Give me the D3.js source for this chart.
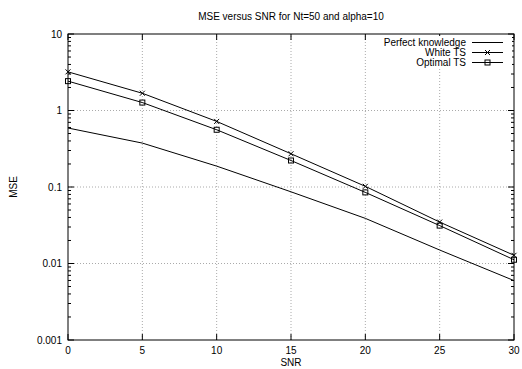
<!DOCTYPE html>
<html>
<head>
<meta charset="utf-8">
<script src="https://d3js.org/d3.v7.min.js"></script>
<style>
  body { margin: 0; background: #fff; }
  svg { display: block; font-family: "Liberation Sans", Arial, sans-serif; }
  .grid line { stroke: #aaa; stroke-width: 1; stroke-dasharray: 1,2; }
  .tick-label { font-size: 10px; fill: #000; }
</style>
</head>
<body>
<div id="chart"></div>
<script>
const snr = [0, 5, 10, 15, 20, 25, 30];
const perfect = [0.59, 0.375, 0.1875, 0.0865, 0.0389, 0.015, 0.00598];
const whiteTS = [3.2, 1.68, 0.72, 0.272, 0.102, 0.0348, 0.0128];
const optimalTS = [2.42, 1.27, 0.56, 0.222, 0.085, 0.0313, 0.0112];
const xTicks = [0, 5, 10, 15, 20, 25, 30];
const yTicks = [0.001, 0.01, 0.1, 1, 10];
const yTickLabels = ["0.001", "0.01", "0.1", "1", "10"];
const seriesNames = ["Perfect knowledge", "White TS", "Optimal TS"];

const width = 522, height = 369;
const margin = { top: 34, right: 8, bottom: 29, left: 68 };

const svg = d3.select("#chart").append("svg")
    .attr("width", width)
    .attr("height", height);

const x = d3.scaleLinear().domain([0, 30]).range([margin.left, width - margin.right]);
const y = d3.scaleLog().domain([0.001, 10]).range([height - margin.bottom, margin.top]);

// grid
const grid = svg.append("g").attr("class", "grid");
grid.selectAll(".gx").data(xTicks.slice(1, -1)).enter().append("line")
    .attr("x1", d => x(d)).attr("x2", d => x(d))
    .attr("y1", y(0.001)).attr("y2", y(10));
grid.selectAll(".gy").data(yTicks.slice(1, -1)).enter().append("line")
    .attr("x1", x(0)).attr("x2", x(30))
    .attr("y1", d => y(d)).attr("y2", d => y(d));

// ticks (inward, mirrored)
const ticks = svg.append("g").attr("stroke", "#000").attr("stroke-width", 1);
xTicks.forEach(t => {
  ticks.append("line").attr("x1", x(t)).attr("x2", x(t)).attr("y1", y(0.001)).attr("y2", y(0.001) - 6);
  ticks.append("line").attr("x1", x(t)).attr("x2", x(t)).attr("y1", y(10)).attr("y2", y(10) + 6);
});
const minor = [];
for (let e = -3; e < 1; e++) for (let m = 2; m < 10; m++) minor.push(m * Math.pow(10, e));
yTicks.forEach(t => {
  ticks.append("line").attr("x1", x(0)).attr("x2", x(0) + 6).attr("y1", y(t)).attr("y2", y(t));
  ticks.append("line").attr("x1", x(30)).attr("x2", x(30) - 6).attr("y1", y(t)).attr("y2", y(t));
});
minor.forEach(t => {
  ticks.append("line").attr("x1", x(0)).attr("x2", x(0) + 3).attr("y1", y(t)).attr("y2", y(t));
  ticks.append("line").attr("x1", x(30)).attr("x2", x(30) - 3).attr("y1", y(t)).attr("y2", y(t));
});

// tick labels
svg.selectAll(".xl").data(xTicks).enter().append("text")
    .attr("class", "tick-label")
    .attr("x", d => x(d)).attr("y", y(0.001) + 14)
    .attr("text-anchor", "middle")
    .text(d => d);
svg.selectAll(".yl").data(yTicks).enter().append("text")
    .attr("class", "tick-label")
    .attr("x", x(0) - 6).attr("y", d => y(d) + 3.5)
    .attr("text-anchor", "end")
    .text((d, i) => yTickLabels[i]);

// titles
svg.append("text").attr("x", 291).attr("y", 20).attr("text-anchor", "middle")
    .attr("font-size", "10px").text("MSE versus SNR for Nt=50 and alpha=10");
svg.append("text").attr("x", 291).attr("y", 366).attr("text-anchor", "middle")
    .attr("font-size", "10px").text("SNR");
svg.append("text").attr("transform", "translate(17,187) rotate(-90)").attr("text-anchor", "middle")
    .attr("font-size", "10px").text("MSE");

// legend background
svg.append("rect").attr("x", 378).attr("y", 36).attr("width", 134).attr("height", 32).attr("fill", "#fff");

// series
const line = d3.line().x((d, i) => x(snr[i])).y(d => y(d));
const allSeries = [perfect, whiteTS, optimalTS];
allSeries.forEach(s => {
  svg.append("path").datum(s).attr("d", line)
     .attr("fill", "none").attr("stroke", "#000").attr("stroke-width", 1);
});

function cross(g, cx, cy) {
  g.append("path").attr("d", `M${cx-2.5},${cy-2.5}L${cx+2.5},${cy+2.5}M${cx-2.5},${cy+2.5}L${cx+2.5},${cy-2.5}`)
   .attr("stroke", "#000").attr("fill", "none");
}
function square(g, cx, cy) {
  g.append("rect").attr("x", cx - 2.5).attr("y", cy - 2.5).attr("width", 5).attr("height", 5)
   .attr("stroke", "#000").attr("fill", "none");
}
const marks = svg.append("g");
whiteTS.forEach((v, i) => cross(marks, x(snr[i]), y(v)));
optimalTS.forEach((v, i) => square(marks, x(snr[i]), y(v)));

// legend
const leg = svg.append("g").attr("font-size", "10px");
seriesNames.forEach((name, i) => {
  const ly = 42.5 + i * 10;
  leg.append("text").attr("x", 466).attr("y", ly + 3.5).attr("text-anchor", "end").text(name);
  leg.append("line").attr("x1", 472).attr("x2", 503).attr("y1", ly).attr("y2", ly).attr("stroke", "#000");
  if (i === 1) cross(leg, 487.5, ly);
  if (i === 2) square(leg, 487.5, ly);
});

// border
svg.append("rect").attr("x", x(0)).attr("y", y(10))
    .attr("width", x(30) - x(0)).attr("height", y(0.001) - y(10))
    .attr("fill", "none").attr("stroke", "#000").attr("stroke-width", 1);
</script>
</body>
</html>
